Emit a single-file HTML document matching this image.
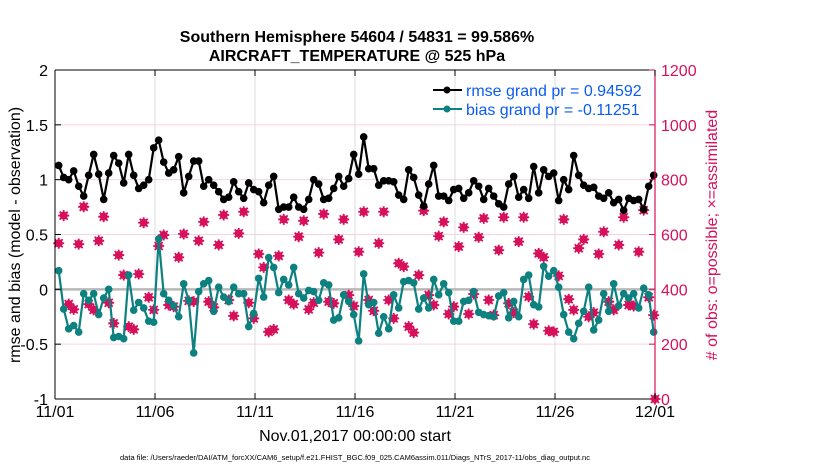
<!DOCTYPE html>
<html><head><meta charset="utf-8"><style>
body{margin:0;background:#fff;}
svg{display:block;font-family:"Liberation Sans",Arial,sans-serif;}
</style></head><body>
<svg id="chart" width="830" height="470" viewBox="0 0 830 470" xmlns="http://www.w3.org/2000/svg">
<g id="grid"></g>
<g id="marks"></g>
<g id="axes"></g>
<text x="357" y="42" text-anchor="middle" font-size="16" font-weight="bold">Southern Hemisphere 54604 / 54831 = 99.586%</text>
<text x="357" y="61" text-anchor="middle" font-size="16" font-weight="bold">AIRCRAFT_TEMPERATURE @ 525 hPa</text>
<text x="355" y="441" text-anchor="middle" font-size="16">Nov.01,2017 00:00:00 start</text>
<text transform="translate(20,235) rotate(-90)" text-anchor="middle" font-size="16">rmse and bias (model - observation)</text>
<text transform="translate(717,235) rotate(-90)" text-anchor="middle" font-size="16" fill="#d6105a"># of obs: o=possible; ×=assimilated</text>
<text x="355" y="460" text-anchor="middle" font-size="7.5">data file: /Users/raeder/DAI/ATM_forcXX/CAM6_setup/f.e21.FHIST_BGC.f09_025.CAM6assim.011/Diags_NTrS_2017-11/obs_diag_output.nc</text>
<g>
<line x1="433" y1="90" x2="462" y2="90" stroke="#000" stroke-width="2"/><circle cx="447" cy="90" r="3.5" fill="#000"/>
<text x="466" y="96" font-size="16" fill="#0b5cf0">rmse grand pr = 0.94592</text>
<line x1="433" y1="109" x2="462" y2="109" stroke="#0d8080" stroke-width="2"/><circle cx="447" cy="109" r="3.5" fill="#0d8080"/>
<text x="466" y="115" font-size="16" fill="#0b5cf0">bias grand pr = -0.11251</text>
</g>
</svg>
<script>
const xTickLabels=["11/01","11/06","11/11","11/16","11/21","11/26","12/01"];
const xTickDays=[0,5,10,15,20,25,30];
const leftTicks=[2,1.5,1,0.5,0,-0.5,-1];
const leftTickLabels=["2","1.5","1","0.5","0","-0.5","-1"];
const rightTicks=[1200,1000,800,600,400,200,0];
const rmse=[1.13,1.02,1.0,1.08,0.94,0.85,1.04,1.23,1.05,0.82,1.06,1.22,1.15,0.97,1.23,1.04,0.92,0.95,1.0,1.29,1.36,1.16,1.06,1.09,1.21,0.88,1.03,1.17,1.17,0.94,1.0,
0.95,0.89,0.82,0.84,0.98,0.89,0.83,0.97,0.91,0.89,0.79,0.95,1.03,0.73,0.75,0.75,0.84,0.75,0.73,0.82,1.0,0.96,0.82,0.83,0.92,1.03,0.94,1.01,1.23,1.05,
1.39,1.10,1.10,0.95,0.99,0.99,0.98,0.86,0.82,1.09,1.02,0.86,0.76,0.96,1.13,0.85,0.85,0.81,0.91,0.92,0.83,0.88,0.99,0.94,0.82,0.92,0.85,0.78,0.75,0.96,
1.03,0.84,0.91,0.83,1.12,0.88,1.09,1.03,1.06,0.81,1.0,0.91,1.22,1.04,0.95,0.92,0.93,0.85,0.83,0.88,0.79,0.82,0.72,0.83,0.81,0.82,0.73,0.94,1.04];
const bias=[0.17,-0.18,-0.36,-0.33,-0.39,-0.04,-0.1,-0.04,-0.23,-0.08,0,-0.44,-0.43,-0.45,0.13,-0.19,-0.12,-0.17,-0.29,-0.3,0.46,-0.04,-0.1,-0.15,-0.25,0.05,-0.1,-0.58,-0.02,0.05,0.08,
-0.2,0.02,-0.07,-0.11,0.02,-0.04,-0.04,-0.34,-0.22,0.1,-0.07,0.29,0.2,-0.03,0.09,0.04,0.2,-0.04,-0.08,-0.01,-0.02,-0.1,0.06,0.04,-0.28,-0.26,-0.05,-0.11,-0.23,-0.47,
0.14,-0.14,-0.12,-0.4,-0.25,-0.36,-0.05,-0.17,0.07,0.08,0.06,-0.18,-0.08,-0.17,0.09,-0.05,0.05,-0.03,-0.29,-0.29,-0.11,-0.1,-0.02,-0.21,-0.23,-0.24,-0.25,-0.06,-0.03,-0.26,
-0.11,-0.25,0.09,0.13,-0.14,-0.16,0.21,0.12,0.17,0.02,-0.23,-0.39,-0.45,-0.31,-0.2,0.02,-0.37,-0.28,-0.04,-0.2,0.05,-0.15,-0.04,-0.08,-0.04,-0.17,0.01,-0.05,-0.39];
const nobs=[568,669,346,327,565,701,346,325,577,665,351,276,525,452,264,254,456,643,371,325,558,598,343,337,517,602,358,355,577,646,355,
334,562,671,361,303,604,683,351,294,529,480,245,254,522,655,361,346,592,650,327,351,534,675,355,349,582,655,379,339,537,
683,361,322,568,683,361,294,495,483,264,242,452,687,379,343,594,646,310,337,556,626,310,383,590,659,361,306,543,663,349,
315,574,663,373,273,531,517,249,245,449,655,364,325,550,582,300,315,529,610,355,325,562,663,343,339,537,689,371,306,0];
const X0=55,X1=655,Y0=70,Y1=399;
const xs=d=>X0+(X1-X0)*d/30;
const yl=v=>Y1-(Y1-Y0)*(v+1)/3;
const yr=v=>Y1-(Y1-Y0)*v/1200;
const dayOf=i=>0.185+0.25*i;
const NS="http://www.w3.org/2000/svg";
function mk(parent,tag,attrs){const e=document.createElementNS(NS,tag);for(const k in attrs)e.setAttribute(k,attrs[k]);parent.appendChild(e);return e;}
const grid=document.getElementById('grid'),marks=document.getElementById('marks'),axes=document.getElementById('axes');
rightTicks.forEach(v=>{const l=mk(grid,'line',{x1:X0,x2:X1,y1:yr(v),y2:yr(v),stroke:'#f6d3e0','stroke-width':1});

});
xTickDays.forEach(d=>{const l=mk(grid,'line',{x1:xs(d),x2:xs(d),y1:Y0,y2:Y1,stroke:'#dcdcdc','stroke-width':1});

});
const z=mk(grid,'line',{x1:X0,x2:X1,y1:yl(0),y2:yl(0),stroke:'#b8b8b8','stroke-width':2.5});


nobs.forEach((v,i)=>{const cx=i<120?xs(dayOf(i)):xs(30),cy=yr(v);
const g=mk(marks,'g',{});


mk(g,'circle',{cx:cx,cy:cy,r:4,fill:'#d6105a'});
mk(g,'path',{d:`M${cx-5.5} ${cy}H${cx+5.5}M${cx} ${cy-5.5}V${cy+5.5}M${cx-4} ${cy-4}L${cx+4} ${cy+4}M${cx-4} ${cy+4}L${cx+4} ${cy-4}`,stroke:'#d6105a','stroke-width':1.8});});
function series(arr,color,name){
const pts=arr.map((v,i)=>xs(dayOf(i)).toFixed(1)+','+yl(v).toFixed(1)).join(' ');
const p=mk(marks,'polyline',{points:pts,fill:'none',stroke:color,'stroke-width':2.2,'stroke-linejoin':'round'});


arr.forEach((v,i)=>{const c=mk(marks,'circle',{cx:xs(dayOf(i)),cy:yl(v),r:3.8,fill:color});

});}
series(bias,'#0d8080','bias');
series(rmse,'#000000','rmse');
mk(axes,'line',{x1:X0,x2:X1,y1:Y0,y2:Y0,stroke:'#000','stroke-width':1});
mk(axes,'line',{x1:X0,x2:X1,y1:Y1,y2:Y1,stroke:'#000','stroke-width':1});
mk(axes,'line',{x1:X0,x2:X0,y1:Y0,y2:Y1,stroke:'#000','stroke-width':1});
mk(axes,'line',{x1:X1,x2:X1,y1:Y0,y2:Y1,stroke:'#d6105a','stroke-width':1.2});
leftTicks.forEach((v,i)=>{mk(axes,'line',{x1:X0,x2:X0+6,y1:yl(v),y2:yl(v),stroke:'#000'});
const t=mk(axes,'text',{x:X0-7,y:yl(v)+6,'text-anchor':'end','font-size':16});t.textContent=leftTickLabels[i];

});
rightTicks.forEach(v=>{mk(axes,'line',{x1:X1-6,x2:X1,y1:yr(v),y2:yr(v),stroke:'#d6105a'});
const t=mk(axes,'text',{x:X1+6,y:yr(v)+6,'font-size':16,fill:'#d6105a'});t.textContent=String(v);

});
xTickDays.forEach((d,i)=>{mk(axes,'line',{x1:xs(d),x2:xs(d),y1:Y1,y2:Y1-6,stroke:'#000'});
mk(axes,'line',{x1:xs(d),x2:xs(d),y1:Y0,y2:Y0+6,stroke:'#000'});
const t=mk(axes,'text',{x:xs(d),y:Y1+18,'text-anchor':'middle','font-size':16});t.textContent=xTickLabels[i];

});
</script>
</body></html>
